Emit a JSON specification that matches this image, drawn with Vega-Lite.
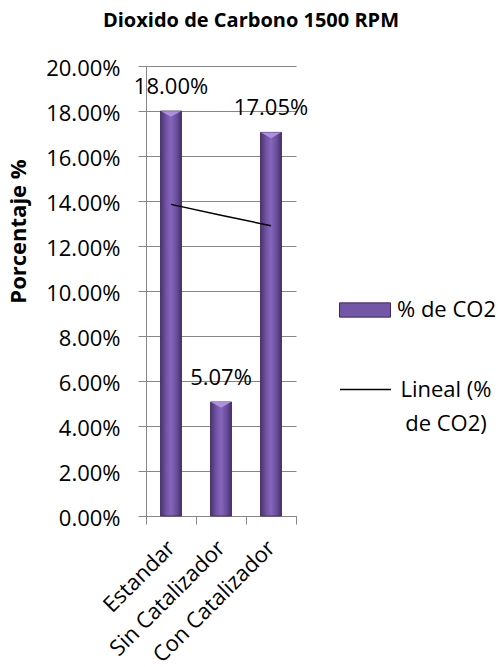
{
  "$schema": "https://vega.github.io/schema/vega-lite/v6.json",
  "width": 150,
  "height": 450,
  "autosize": {"type": "none"},
  "padding": {"left": 146, "top": 66, "right": 206, "bottom": 151},
  "title": {"text": "Dioxido de Carbono 1500 RPM", "font": "Open Sans", "fontSize": 20, "fontWeight": "bold", "anchor": "middle", "dx": 30, "offset": 26, "color": "#000000"},
  "config": {
    "view": {"stroke": null},
    "font": "Open Sans",
    "axis": {"labelFont": "Open Sans", "labelColor": "#000000", "titleFont": "Open Sans", "titleColor": "#000000"}
  },
  "data": {"values": [
    {"cat": "Estandar", "v": 0.18, "trend": 0.1385},
    {"cat": "Sin Catalizador", "v": 0.0507, "trend": 0.1337},
    {"cat": "Con Catalizador", "v": 0.1705, "trend": 0.129}
  ]},
  "encoding": {
    "x": {"field": "cat", "type": "nominal", "sort": null,
      "scale": {"paddingInner": 0, "paddingOuter": 0},
      "axis": {"title": null, "labelAngle": -45, "labelAlign": "right", "labelBaseline": "middle", "labelFontSize": 22, "labelPadding": 20, "tickBand": "extent", "tickSize": 8, "tickColor": "#868686", "domainColor": "#868686", "labelLimit": 300}}
  },
  "layer": [
    {
      "mark": {"type": "bar", "width": {"band": 0.42}},
      "encoding": {
        "y": {"field": "v", "type": "quantitative", "scale": {"domain": [0, 0.2], "nice": false},
          "axis": {"values": [0, 0.02, 0.04, 0.06, 0.08, 0.1, 0.12, 0.14, 0.16, 0.18, 0.2], "format": ".2%", "labelFontSize": 22, "labelPadding": 18, "labelOffset": 2, "tickSize": 8, "tickColor": "#868686", "domainColor": "#868686", "gridColor": "#868686", "gridWidth": 1, "title": "Porcentaje %", "titleFontSize": 22, "titleFontWeight": "bold", "titleAngle": -90, "titleX": -128, "titleY": 165, "titleAlign": "center", "titleBaseline": "middle"}},
        "fill": {"datum": "% de CO2", "type": "nominal", "scale": {"range": ["#7356a6"]},
          "legend": {"title": null, "orient": "none", "legendX": 193, "legendY": 218, "padding": 0, "symbolType": "M-1,-0.28H1V0.28H-1Z", "symbolSize": 2601, "symbolStrokeColor": "#3f2a60", "symbolStrokeWidth": 1, "labelFontSize": 22, "labelFont": "Open Sans", "labelColor": "#000000", "labelOffset": 6}}
      }
    },
    {
      "mark": {"type": "bar", "width": {"band": 0.42}, "stroke": "#3f2a60", "strokeWidth": 0.8,
        "fill": {"gradient": "linear", "x1": 0, "x2": 1, "y1": 0, "y2": 0, "stops": [
          {"offset": 0, "color": "#4a3372"}, {"offset": 0.3, "color": "#7556a8"}, {"offset": 0.5, "color": "#8466ba"}, {"offset": 0.75, "color": "#6c4f9e"}, {"offset": 1, "color": "#45306a"}]}},
      "encoding": {"y": {"field": "v", "type": "quantitative"}}
    },
    {
      "mark": {"type": "point", "filled": true, "shape": "M-1,-0.28L1,-0.28L0,0.28Z", "size": 400, "yOffset": 3, "color": "#ad90dd", "opacity": 1},
      "encoding": {"y": {"field": "v", "type": "quantitative"}}
    },
    {
      "mark": {"type": "line", "strokeWidth": 1.5},
      "encoding": {
        "y": {"field": "trend", "type": "quantitative"},
        "stroke": {"datum": "Lineal (% de CO2)", "type": "nominal", "scale": {"range": ["#000000"]},
          "legend": {"title": null, "orient": "none", "legendX": 193, "legendY": 297, "padding": 0, "symbolType": "stroke", "symbolSize": 2601, "symbolStrokeWidth": 1.5, "labelFontSize": 22, "labelFont": "Open Sans", "labelColor": "#000000", "labelAlign": "center", "labelOffset": 54, "labelLimit": 200,
            "labelExpr": "datum.label == 'Lineal (% de CO2)' ? ['Lineal (%', 'de CO2)'] : datum.label",
            "encode": {"labels": {"update": {"lineHeight": {"value": 34}}}}}}
      }
    },
    {
      "mark": {"type": "text", "dy": -24, "fontSize": 22, "font": "Open Sans", "color": "#000000", "baseline": "middle"},
      "encoding": {"y": {"field": "v", "type": "quantitative"}, "text": {"field": "v", "type": "quantitative", "format": ".2%"}}
    }
  ]
}
